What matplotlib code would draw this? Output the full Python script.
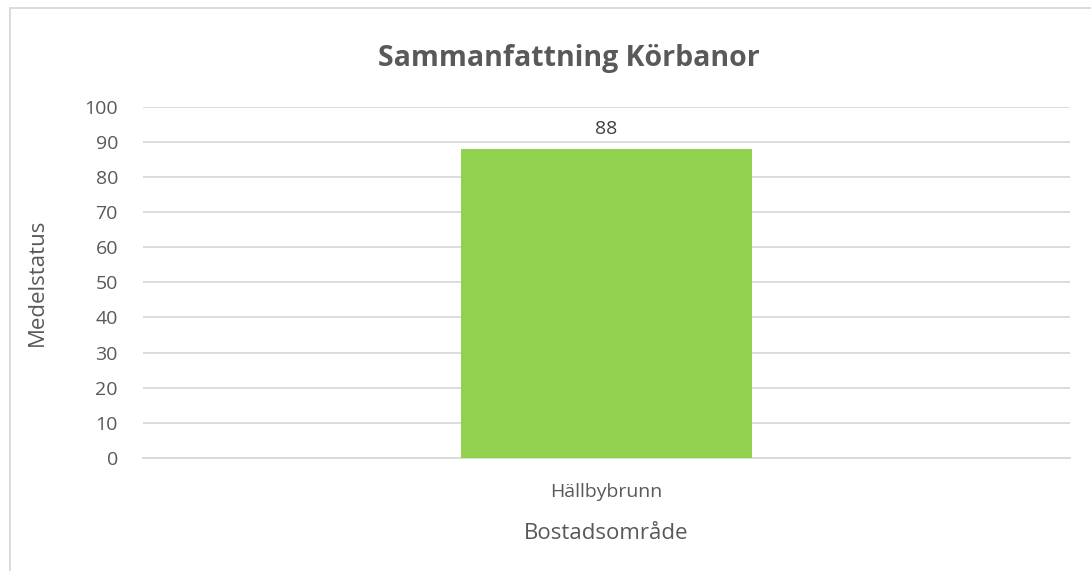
import numpy as np
import matplotlib.pyplot as plt
from matplotlib.patches import Rectangle

# data
categories = ['Hällbybrunn']
values = [88]

plt.rcParams['font.family'] = ['Open Sans', 'DejaVu Sans']
text_col = '#595959'

fig = plt.figure(figsize=(10.91, 5.71), dpi=100)
ax = fig.add_axes([0.131, 0.198, 0.850, 0.615])

x = np.arange(len(categories))
bars = ax.bar(x, values, width=0.314, color='#92D050', zorder=3)
for b, v in zip(bars, values):
    ax.text(b.get_x() + b.get_width() / 2, v + 3, str(v), ha='center', va='bottom',
            fontsize=14, color='#404040')

ax.set_xlim(-0.5, 0.5)
ax.set_ylim(0, 100)
ax.set_yticks(range(0, 101, 10))
ax.set_xticks(x)
ax.set_xticklabels(categories)
ax.yaxis.grid(True, color='#D9D9D9', linewidth=1.3, zorder=0)
ax.tick_params(axis='both', length=0, labelsize=14, labelcolor=text_col)
ax.tick_params(axis='y', pad=18)
ax.tick_params(axis='x', pad=18)
for s in ['top', 'right', 'left']:
    ax.spines[s].set_visible(False)
ax.spines['bottom'].set_color('#D9D9D9')
ax.spines['bottom'].set_linewidth(1.3)

ax.set_xlabel('Bostadsområde', fontsize=16, color=text_col, labelpad=16)
ax.set_ylabel('Medelstatus', fontsize=16, color=text_col)
ax.yaxis.set_label_coords(-0.103, 0.5)
fig.text(0.521, 0.898, 'Sammanfattning Körbanor', ha='center', va='center',
         fontsize=20.5, fontweight='bold', color=text_col)

# chart frame (left and top edges visible)
fig.add_artist(Rectangle((10 / 1091, -0.1), 1.2, 1 - 8 / 571 + 0.1, transform=fig.transFigure,
                         fill=False, edgecolor='#D9D9D9', linewidth=1.3))

fig.savefig('out.png', dpi=100)
